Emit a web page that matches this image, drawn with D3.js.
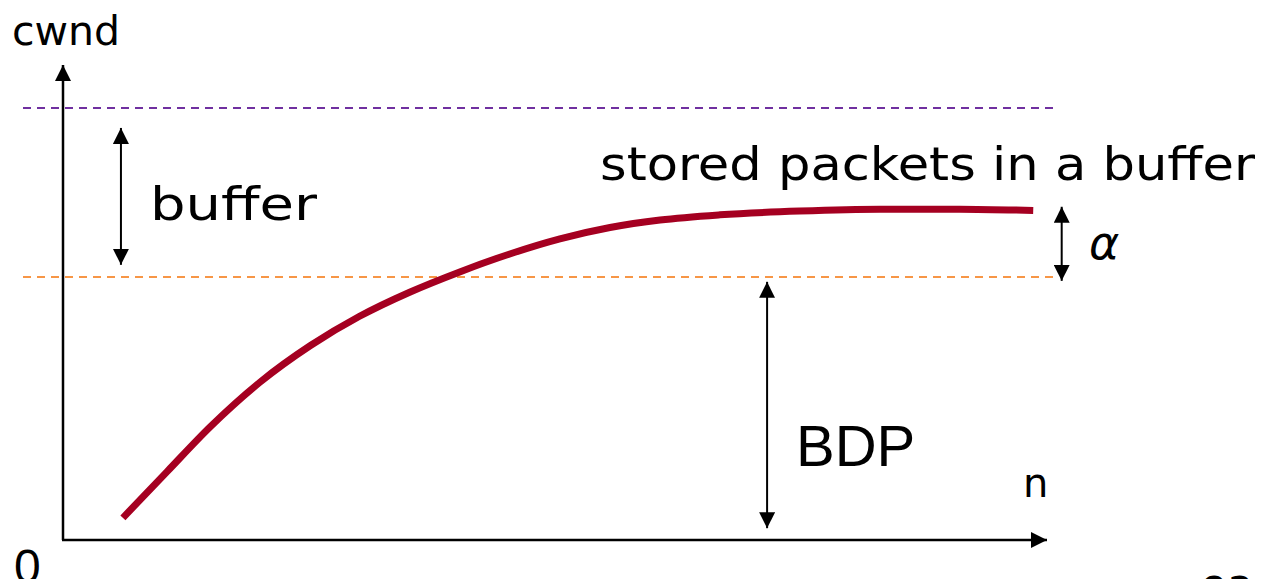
<!DOCTYPE html>
<html>
<head>
<meta charset="utf-8">
<script src="https://cdn.jsdelivr.net/npm/d3@7"></script>
<style>
  body { margin: 0; background: #fff; }
  .hand { font-family: "Comic Sans MS", "DejaVu Sans", sans-serif; fill: #000; }
  .plain { font-family: "Liberation Sans", Arial, sans-serif; fill: #000; }
</style>
</head>
<body>
<script>
// cwnd growth curve (n on x, cwnd on y, both in 0..100 units)
var nValues    = [6.1, 10.6, 15.0, 20.1, 25.2, 30.2, 35.3, 40.4, 45.5, 50.6, 55.7, 60.8, 66.9, 75.0, 83.2, 91.3, 98.8];
var cwndValues = [4.7, 14.5, 24.0, 33.5, 41.2, 47.4, 52.5, 56.8, 60.6, 63.8, 66.2, 67.8, 68.9, 69.7, 70.1, 70.1, 69.8];

// reference levels
var levelNames  = ["buffer top", "BDP"];
var levelValues = [91.5, 55.7];

// double arrows: [n, from, to]
var arrowNames = ["buffer", "alpha", "BDP"];
var arrowN     = [5.9, 101.7, 71.7];
var arrowFrom  = [87.3, 70.6, 54.7];
var arrowTo    = [58.3, 54.9, 2.5];

var width = 1267,
    height = 579;

var x = d3.scaleLinear().domain([0, 100]).range([63, 1045]);
var y = d3.scaleLinear().domain([0, 100]).range([540, 68]);

var svg = d3.select("body").append("svg")
    .attr("width", width)
    .attr("height", height);

var defs = svg.append("defs");
function marker(id, size) {
  defs.append("marker")
      .attr("id", id)
      .attr("viewBox", "0 0 10 10")
      .attr("refX", 10).attr("refY", 5)
      .attr("markerUnits", "userSpaceOnUse")
      .attr("markerWidth", size).attr("markerHeight", size)
      .attr("orient", "auto-start-reverse")
    .append("path")
      .attr("d", "M0,0 L10,5 L0,10 Z")
      .attr("fill", "#000");
}
marker("head", 16);
marker("axisHead", 16);

// dashed reference lines
var dashColors = ["#7030a0", "#f79646"];
svg.selectAll(".level")
    .data(levelValues)
  .enter().append("line")
    .attr("class", "level")
    .attr("x1", 23).attr("x2", 1055)
    .attr("y1", function(d) { return y(d); })
    .attr("y2", function(d) { return y(d); })
    .attr("stroke", function(d, i) { return dashColors[i]; })
    .attr("stroke-width", 2)
    .attr("stroke-dasharray", "8,6");

// axes with arrow heads
svg.append("line")
    .attr("x1", x(0)).attr("y1", y(0))
    .attr("x2", x(0)).attr("y2", y(100) - 3)
    .attr("stroke", "#000").attr("stroke-width", 2.5)
    .attr("marker-end", "url(#axisHead)");
svg.append("line")
    .attr("x1", x(0) - 1).attr("y1", y(0))
    .attr("x2", x(100) + 2).attr("y2", y(0))
    .attr("stroke", "#000").attr("stroke-width", 2.5)
    .attr("marker-end", "url(#axisHead)");

// the cwnd curve
var pts = nValues.map(function(d, i) { return [d, cwndValues[i]]; });
var line = d3.line()
    .x(function(d) { return x(d[0]); })
    .y(function(d) { return y(d[1]); })
    .curve(d3.curveMonotoneX);

svg.append("path")
    .datum(pts)
    .attr("d", line)
    .attr("fill", "none")
    .attr("stroke", "#a50021")
    .attr("stroke-width", 7);

// double headed arrows
svg.selectAll(".arrow")
    .data(arrowNames)
  .enter().append("line")
    .attr("class", "arrow")
    .attr("x1", function(d, i) { return x(arrowN[i]); })
    .attr("x2", function(d, i) { return x(arrowN[i]); })
    .attr("y1", function(d, i) { return y(arrowFrom[i]); })
    .attr("y2", function(d, i) { return y(arrowTo[i]); })
    .attr("stroke", "#000").attr("stroke-width", 2)
    .attr("marker-start", "url(#head)")
    .attr("marker-end", "url(#head)");

// labels
svg.append("text").attr("class", "hand")
    .attr("x", 12).attr("y", 45)
    .style("font-size", "41px")
    .text("cwnd");

svg.append("text").attr("class", "hand")
    .attr("x", 150).attr("y", 220)
    .style("font-size", "46px")
    .attr("textLength", 167)
    .attr("lengthAdjust", "spacingAndGlyphs")
    .text("buffer");

svg.append("text").attr("class", "hand")
    .attr("x", 600).attr("y", 180)
    .style("font-size", "46px")
    .attr("textLength", 655)
    .attr("lengthAdjust", "spacingAndGlyphs")
    .text("stored packets in a buffer");

svg.append("text")
    .attr("x", 1089).attr("y", 259)
    .style("font-family", "DejaVu Sans, sans-serif")
    .style("font-style", "italic")
    .style("font-size", "46px")
    .text("α");

svg.append("text").attr("class", "plain")
    .attr("x", 796).attr("y", 466)
    .style("font-size", "58px")
    .text("BDP");

svg.append("text").attr("class", "hand")
    .attr("x", 1023).attr("y", 497)
    .style("font-size", "40px")
    .text("n");

svg.append("text").attr("class", "plain")
    .attr("x", 14).attr("y", 583)
    .style("font-size", "48px")
    .text("0");

svg.append("text").attr("class", "hand")
    .attr("x", 1200).attr("y", 600)
    .style("font-size", "44px")
    .text("ea");
</script>
</body>
</html>
